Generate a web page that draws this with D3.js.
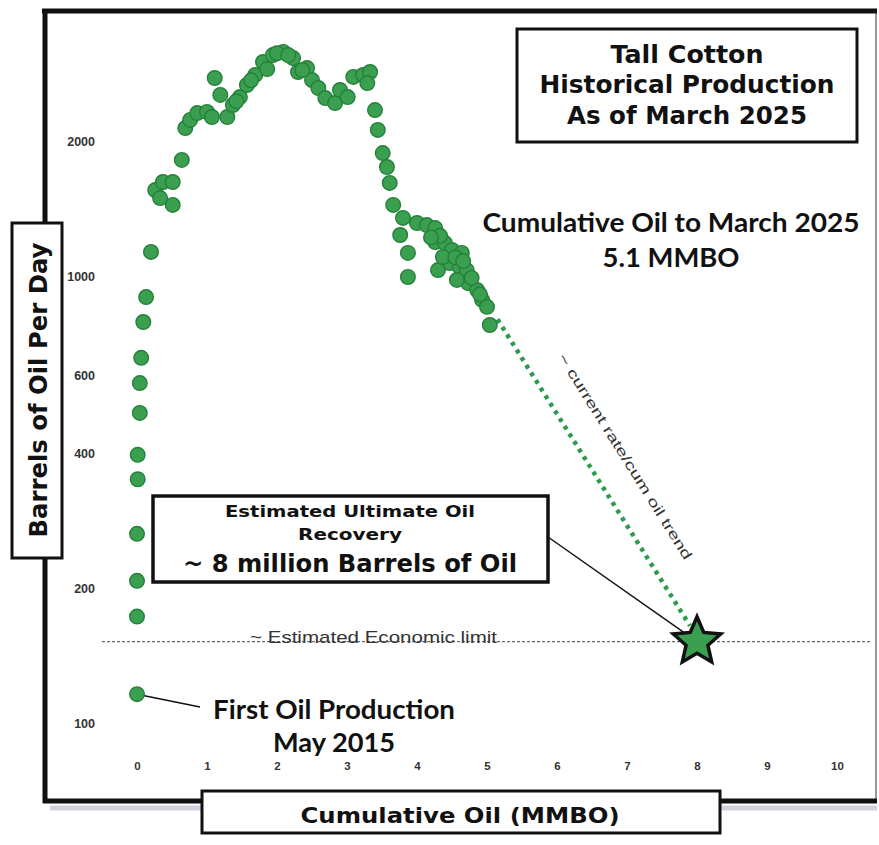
<!DOCTYPE html>
<html><head><meta charset="utf-8">
<script src="https://cdn.jsdelivr.net/npm/d3@7"></script>
<style>body{margin:0;background:#fff} svg{display:block}</style>
</head><body><svg id="c" width="879" height="845"></svg>
<script>
// [cumulative oil (MMBO), oil rate (bbl/day)]
const production = [
  [0,116],[0,173],[0,208],[0,265],[0.01,351],[0.01,398],[0.04,494],[0.04,576],[0.06,656],[0.09,789],[0.13,897],[0.2,1132],
  [0.26,1557],[0.37,1623],[0.51,1623],[0.33,1494],[0.51,1442],[0.64,1818],[0.69,2143],[0.76,2234],[0.86,2315],[1.0,2328],
  [1.07,2268],[1.11,2773],[1.19,2541],[1.29,2268],[1.37,2413],[1.47,2513],[1.57,2675],[1.69,2818],[1.8,3011],[1.86,2904],
  [1.94,3120],[2.09,3171],[2.23,3073],[2.3,2860],[2.43,2918],[2.5,2743],[2.59,2634],[2.69,2501],[2.83,2438],[2.9,2607],
  [3.01,2513],[3.09,2788],[3.23,2818],[3.33,2860],[3.29,2701],[3.4,2351],[3.44,2122],[3.51,1884],[3.57,1753],[3.61,1615],
  [3.66,1442],[3.8,1349],[3.76,1235],[3.87,1126],[3.87,995],[4.0,1314],[4.14,1300],[4.26,1280],[4.3,1031],[4.26,1191],
  [4.4,1185],[4.5,1144],[4.64,1126],[4.47,1069],[4.61,1047],[4.71,1031],[4.73,964],[4.86,930],[4.93,884],[5.0,853],
  [5.04,777],[4.37,1103],[4.57,980],[4.33,1230],[4.55,1100],[4.78,990],[4.66,1080],[4.9,910],[4.2,1220],
  [1.63,2740],[2.0,3150],[2.16,3120],[2.36,2890],[1.42,2460]
];
const xTicks = [0,1,2,3,4,5,6,7,8,9,10];
const yTicks = [100,200,400,600,1000,2000];
const econLimit = 152;
const eur = [8, 152];
const firstOil = [0, 116];
const trend = [[5.15, 800],[7.9, 165]];
const titleLines = ["Tall Cotton","Historical Production","As of March 2025"];
const cumLines = ["Cumulative Oil to March 2025","5.1 MMBO"];
const eurLines = ["Estimated Ultimate Oil","Recovery","~ 8 million Barrels of Oil"];
const firstLines = ["First Oil Production","May 2015"];
const yLabel = "Barrels of Oil Per Day";
const xLabel = "Cumulative Oil (MMBO)";
const econText = "~ Estimated Economic limit";
const trendText = "~ current rate/cum oil trend";

const svg = d3.select("#c");
const x = d3.scaleLinear().domain([0,10]).range([137,837]);
const y = d3.scaleLog().domain([100,1000]).range([723,276]);
const GREEN = "#3b9f50", GREEN_D = "#24803a";
const ARIAL = "'Liberation Sans', Arial, sans-serif";
const HEAVY = "'DejaVu Sans', 'Liberation Sans', sans-serif";
const CAL = "Lato, 'Open Sans', sans-serif";

// frame
svg.append("line").attr("x1",50).attr("x2",877).attr("y1",808).attr("y2",808)
  .attr("stroke","#b8b2cc").attr("stroke-width",5).attr("opacity",0.6);
svg.append("line").attr("x1",876).attr("x2",876).attr("y1",12).attr("y2",800)
  .attr("stroke","#777").attr("stroke-width",1.5);
svg.append("line").attr("x1",42).attr("x2",877).attr("y1",11).attr("y2",11)
  .attr("stroke","#111").attr("stroke-width",5);
svg.append("line").attr("x1",45).attr("x2",45).attr("y1",9).attr("y2",803)
  .attr("stroke","#111").attr("stroke-width",5);
svg.append("line").attr("x1",43).attr("x2",877).attr("y1",801).attr("y2",801)
  .attr("stroke","#111").attr("stroke-width",5);

// axes (labels only)
const ya = svg.append("g").attr("transform","translate(95,0)")
  .call(d3.axisLeft(y).tickValues(yTicks).tickFormat(d3.format("d")).tickSize(0).tickPadding(0));
ya.select(".domain").remove();
ya.selectAll("text").attr("font-family",ARIAL).attr("font-weight","bold").attr("font-size",12.5).attr("fill","#333");
const xa = svg.append("g").attr("transform","translate(0,762)")
  .call(d3.axisBottom(x).tickValues(xTicks).tickFormat(d3.format("d")).tickSize(0).tickPadding(0));
xa.select(".domain").remove();
xa.selectAll("text").attr("font-family",ARIAL).attr("font-weight","bold").attr("font-size",11.5).attr("fill","#333");

// economic limit
svg.append("line").attr("x1",102).attr("x2",870).attr("y1",y(econLimit)).attr("y2",y(econLimit))
  .attr("stroke","#444").attr("stroke-width",1).attr("stroke-dasharray","3,2");
svg.append("text").attr("x",250).attr("y",y(econLimit)+1).text(econText)
  .attr("font-family",ARIAL).attr("font-size",17).attr("fill","#333")
  .attr("textLength",247).attr("lengthAdjust","spacingAndGlyphs");

// trend
svg.append("path").attr("d",d3.line().x(d=>x(d[0])).y(d=>y(d[1]))(trend))
  .attr("fill","none").attr("stroke","#2e9a4e").attr("stroke-width",4.5).attr("stroke-dasharray","4,5");
svg.append("text").attr("transform","translate(621,459) rotate(58)").attr("text-anchor","middle")
  .text(trendText).attr("font-family",ARIAL).attr("font-size",14).attr("fill","#333")
  .attr("textLength",240).attr("lengthAdjust","spacingAndGlyphs");

// connectors
svg.append("line").attr("x1",548).attr("y1",537).attr("x2",x(eur[0])).attr("y2",y(eur[1]))
  .attr("stroke","#111").attr("stroke-width",1.5);
svg.append("line").attr("x1",x(firstOil[0])).attr("y1",y(firstOil[1])).attr("x2",200).attr("y2",707)
  .attr("stroke","#111").attr("stroke-width",1.5);

// points
svg.append("g").selectAll("circle").data(production).join("circle")
  .attr("cx",d=>x(d[0])).attr("cy",d=>y(d[1])).attr("r",7.3)
  .attr("fill",GREEN).attr("stroke",GREEN_D).attr("stroke-width",1.4);

// star
const R = 25, r = 11.5;
const starPts = d3.range(10).map(i => {
  const a = -Math.PI/2 + i*Math.PI/5, rr = i%2 ? r : R;
  return [Math.cos(a)*rr, Math.sin(a)*rr];
});
svg.append("path").attr("transform",`translate(${x(eur[0])},${y(eur[1])})`)
  .attr("d","M"+starPts.join("L")+"Z").attr("fill",GREEN).attr("stroke","#111")
  .attr("stroke-width",3.5).attr("stroke-linejoin","miter");

// boxes
function box(x0,y0,w,h,sw){
  svg.append("rect").attr("x",x0).attr("y",y0).attr("width",w).attr("height",h)
    .attr("fill","#fff").attr("stroke","#111").attr("stroke-width",sw);
}
function txt(s,cx,by,size,len,fam,weight){
  return svg.append("text").attr("x",cx).attr("y",by).attr("text-anchor","middle").text(s)
    .attr("font-family",fam).attr("font-weight",weight||"bold").attr("font-size",size).attr("fill","#111")
    .attr("textLength",len).attr("lengthAdjust","spacingAndGlyphs");
}
// title
box(517,29,340,113,3);
txt(titleLines[0],687,63,24,153,HEAVY);
txt(titleLines[1],687,93,24,295,HEAVY);
txt(titleLines[2],687,124,24,240,HEAVY);
// cum
txt(cumLines[0],671,232,27,377,CAL);
txt(cumLines[1],671,267,27,137,CAL);
// eur
box(153,496,395,86,3.5);
txt(eurLines[0],350,517,16.5,250,HEAVY);
txt(eurLines[1],350,540,16.5,104,HEAVY);
txt(eurLines[2],350,572,25,334,HEAVY);
// first oil
txt(firstLines[0],334,719,26,242,CAL);
txt(firstLines[1],334,752,26,122,CAL);
// y label
box(12,223,50,335,3);
svg.append("text").attr("transform","translate(47,390) rotate(-90)").attr("text-anchor","middle")
  .text(yLabel).attr("font-family",HEAVY).attr("font-weight","bold").attr("font-size",25).attr("fill","#111")
  .attr("textLength",295).attr("lengthAdjust","spacingAndGlyphs");
// x label
box(202,791,518,42,3);
txt(xLabel,460,823,21,319,HEAVY);
</script></body></html>
